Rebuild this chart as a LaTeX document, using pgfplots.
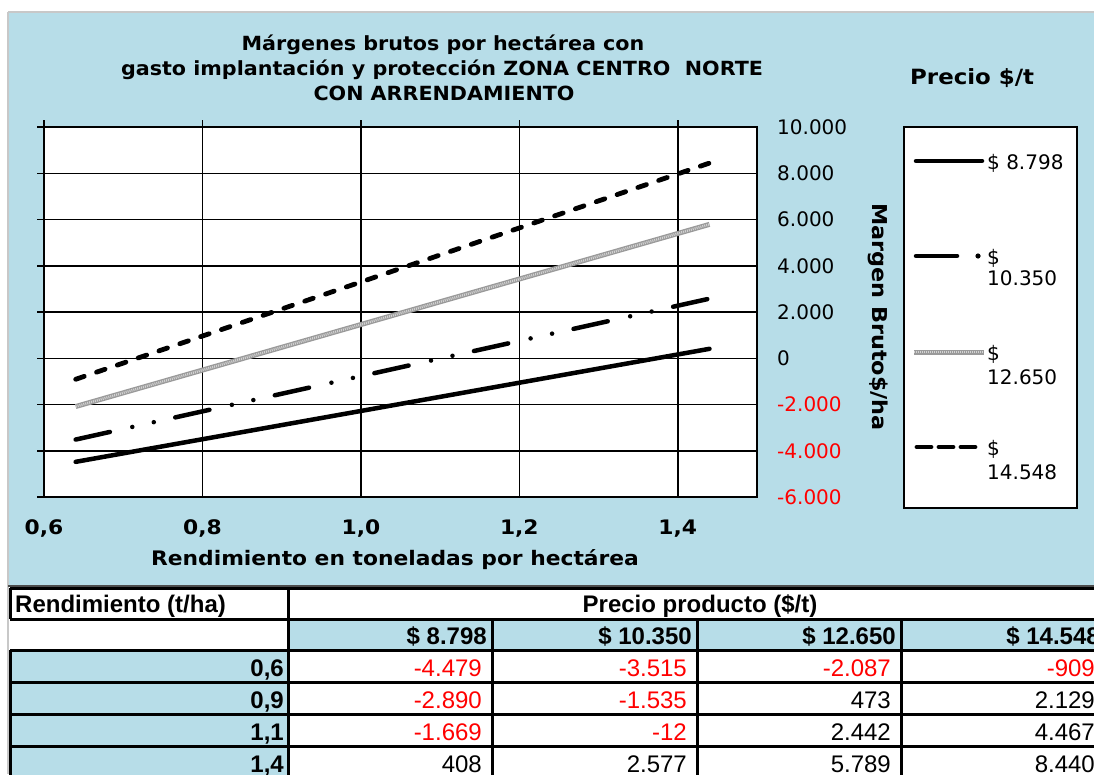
\documentclass[border=0pt]{standalone}
\usepackage{fontspec}
\setmainfont{DejaVu Sans}
\newfontfamily\verd[FakeStretch=1.09]{DejaVu Sans}
\newfontfamily\verdt[FakeStretch=1.06]{DejaVu Sans}
\newfontfamily\arial{Liberation Sans}
\usepackage{pgfplots}
\pgfplotsset{compat=1.18}
\definecolor{bgblue}{HTML}{B7DDE8}
\definecolor{myred}{HTML}{FF0000}
\definecolor{pagegray}{HTML}{C8C8C8}
\definecolor{lgray}{HTML}{9A9A9A}
\definecolor{llgray}{HTML}{D2D2D2}
\begin{document}
\begin{tikzpicture}
\path[use as bounding box] (0,0) rectangle (1094pt,-774pt);
\clip (0,0) rectangle (1094pt,-774pt);
\begin{scope}[x=1pt,y=-1pt]
\fill[white] (0,0) rectangle (1094,774);
\fill[bgblue] (8,12) rectangle (1094,586);
\draw[pagegray, line width=1.5pt] (8,12) -- (1094,12);
\draw[pagegray, line width=1.5pt] (8,12) -- (8,774);
\draw[black!70, line width=1.5pt] (8,586) -- (1094,586);
% title
\node[anchor=base, font=\verdt\fontsize{19.5}{23}\selectfont\bfseries] at (443,50) {Márgenes brutos por hectárea con};
\node[anchor=base, font=\verdt\fontsize{19.5}{23}\selectfont\bfseries] at (442,75) {gasto implantación y protección ZONA CENTRO~ NORTE};
\node[anchor=base, font=\verdt\fontsize{19.5}{23}\selectfont\bfseries] at (444,100) {CON ARRENDAMIENTO};
\node[anchor=base, font=\verd\fontsize{20}{24}\selectfont\bfseries] at (395,565) {Rendimiento en toneladas por hectárea};
\node[rotate=-90, font=\verd\fontsize{20.5}{24}\selectfont\bfseries] at (878,317) {Margen Bruto\$/ha};
\end{scope}

\begin{axis}[
  at={(44pt,-497pt)}, anchor=south west,
  scale only axis, width=713pt, height=370pt,
  xmin=0.6, xmax=1.5, ymin=-6000, ymax=10000,
  scaled y ticks=false, scaled x ticks=false,
  axis background/.style={fill=white},
  xtick={0.6,0.8,1.0,1.2,1.4},
  xticklabels={{0,6},{0,8},{1,0},{1,2},{1,4}},
  ytick={-6000,-4000,-2000,0,2000,4000,6000,8000,10000},
  yticklabels={\textcolor{myred}{-6.000},\textcolor{myred}{-4.000},\textcolor{myred}{-2.000},0,2.000,4.000,6.000,8.000,10.000},
  xtick pos=upper, xticklabel pos=lower,
  ytick pos=left, yticklabel pos=right,
  tick align=outside,
  major tick length=7pt,
  tick style={black, line width=1.5pt},
  grid=major,
  major grid style={black, line width=1.5pt},
  axis line style={black, line width=1.5pt},
  xticklabel style={font=\verd\fontsize{20}{24}\selectfont\bfseries, anchor=base, inner sep=0pt, yshift=-30pt},
  yticklabel style={font=\fontsize{20}{24}\selectfont, anchor=west, inner sep=0pt, xshift=13pt},
  clip=true,
]
\addplot[black, line width=4.5pt, line cap=round] coordinates {(0.64,-4479) (0.9,-2890) (1.1,-1669) (1.44,408)};
\addplot[black, line width=4.5pt, line cap=round, dash pattern=on 35pt off 23pt on 0pt off 22pt on 0pt off 22pt] coordinates {(0.64,-3515) (0.9,-1535) (1.1,-12) (1.44,2577)};
\addplot[lgray, line width=5pt] coordinates {(0.64,-2087) (0.9,473) (1.1,2442) (1.44,5789)};
\addplot[llgray, line width=2.4pt, dash pattern=on 1pt off 1pt] coordinates {(0.64,-2087) (0.9,473) (1.1,2442) (1.44,5789)};
\addplot[black, line width=4.8pt, line cap=round, dash pattern=on 9pt off 13pt] coordinates {(0.64,-909) (0.9,2129) (1.1,4467) (1.44,8440)};
\end{axis}

\begin{scope}[x=1pt,y=-1pt]
% legend
\node[anchor=base west, font=\verd\fontsize{21}{24}\selectfont\bfseries, inner sep=0pt] at (910,84) {Precio \$/t};
\draw[black, line width=1.5pt, fill=white] (904,127) rectangle (1077,508);
\draw[black, line width=4.5pt, line cap=round] (916,161) -- (982,161);
\node[anchor=base west, font=\fontsize{20}{24}\selectfont, inner sep=0pt] at (987,169) {\$ 8.798};
\draw[black, line width=4.5pt, line cap=round] (916,256) -- (957,256);
\fill[black] (978,256) circle (2.6);
\node[anchor=base west, font=\fontsize{20}{24}\selectfont, inner sep=0pt] at (987,264) {\$};
\node[anchor=base west, font=\fontsize{20}{24}\selectfont, inner sep=0pt] at (987,285) {10.350};
\draw[lgray, line width=5pt] (914,352) -- (984,352);
\draw[llgray, line width=2.4pt, dash pattern=on 1pt off 1pt] (914,352) -- (984,352);
\node[anchor=base west, font=\fontsize{20}{24}\selectfont, inner sep=0pt] at (987,360) {\$};
\node[anchor=base west, font=\fontsize{20}{24}\selectfont, inner sep=0pt] at (987,384) {12.650};
\draw[black, line width=4.8pt, line cap=round, dash pattern=on 14pt off 8pt] (917,447) -- (981,447);
\node[anchor=base west, font=\fontsize{20}{24}\selectfont, inner sep=0pt] at (987,455) {\$};
\node[anchor=base west, font=\fontsize{20}{24}\selectfont, inner sep=0pt] at (987,479) {14.548};

% table
\fill[bgblue] (288,619) rectangle (1094,650);
\fill[bgblue] (10,650) rectangle (288,780);
\foreach \yy in {588,619,650,682,714,746} {\draw[black, line width=3pt] (10,\yy) -- (1094,\yy);}
\draw[black, line width=3pt] (10,588) -- (10,619);
\draw[black, line width=3pt] (10,650) -- (10,780);
\draw[black, line width=3pt] (288,588) -- (288,780);
\foreach \xx in {492,697,901} {\draw[black, line width=3pt] (\xx,619) -- (\xx,780);}
\begin{scope}[every node/.style={font=\arial\fontsize{24}{28}\selectfont, inner sep=0pt}]
\node[anchor=base west] at (15,612) {\bfseries Rendimiento (t/ha)};
\node[anchor=base] at (700,612) {\bfseries Precio producto (\$/t)};
\node[anchor=base east] at (487,644) {\bfseries \$ 8.798};
\node[anchor=base east] at (692,644) {\bfseries \$ 10.350};
\node[anchor=base east] at (896,644) {\bfseries \$ 12.650};
\node[anchor=base east] at (1100,644) {\bfseries \$ 14.548};
\node[anchor=base east] at (284,676) {\bfseries 0,6};
\node[anchor=base east] at (284,708) {\bfseries 0,9};
\node[anchor=base east] at (284,740) {\bfseries 1,1};
\node[anchor=base east] at (284,772) {\bfseries 1,4};
\node[anchor=base east, text=myred] at (482,676) {-4.479};
\node[anchor=base east, text=myred] at (687,676) {-3.515};
\node[anchor=base east, text=myred] at (891,676) {-2.087};
\node[anchor=base east, text=myred] at (1095,676) {-909};
\node[anchor=base east, text=myred] at (482,708) {-2.890};
\node[anchor=base east, text=myred] at (687,708) {-1.535};
\node[anchor=base east] at (891,708) {473};
\node[anchor=base east] at (1095,708) {2.129};
\node[anchor=base east, text=myred] at (482,740) {-1.669};
\node[anchor=base east, text=myred] at (687,740) {-12};
\node[anchor=base east] at (891,740) {2.442};
\node[anchor=base east] at (1095,740) {4.467};
\node[anchor=base east] at (482,772) {408};
\node[anchor=base east] at (687,772) {2.577};
\node[anchor=base east] at (891,772) {5.789};
\node[anchor=base east] at (1095,772) {8.440};
\end{scope}
\end{scope}
\end{tikzpicture}
\end{document}
